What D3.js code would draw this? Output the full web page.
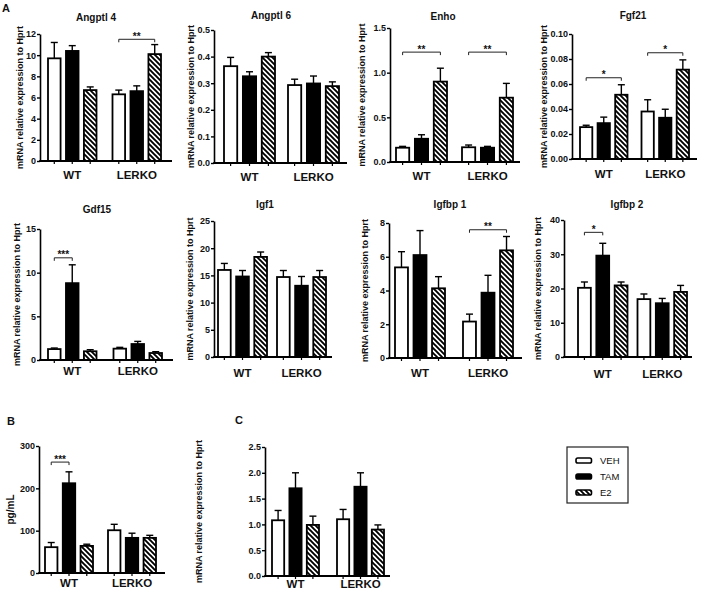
<!DOCTYPE html>
<html><head><meta charset="utf-8">
<script src="https://cdn.jsdelivr.net/npm/d3@7"></script>
<style>
body{margin:0;background:#fff}
svg{display:block}
text{font-family:"Liberation Sans",Arial,Helvetica,sans-serif;fill:#111}
</style>
</head><body>
<svg id="chart" width="709" height="592"></svg>
<script>
// ---------- DATA ----------
const groups = ["WT", "LERKO"];
const treatments = ["VEH", "TAM", "E2"];
const yLabelMRNA = "mRNA relative expression to Hprt";
const yLabelPlasma = "pg/mL";

// means: [WT: VEH, TAM, E2], [LERKO: VEH, TAM, E2]; sem likewise
const angptl4Mean = [[9.7, 10.4, 6.7], [6.3, 6.6, 10.1]];
const angptl4Sem  = [[1.5, 0.5, 0.3], [0.4, 0.5, 0.9]];
const angptl4Ticks = [0, 2, 4, 6, 8, 10, 12];
const angptl4Sig = [{group: "LERKO", from: "VEH", to: "E2", y: 11.5, label: "**"}];

const angptl6Mean = [[0.364, 0.326, 0.400], [0.293, 0.299, 0.289]];
const angptl6Sem  = [[0.033, 0.017, 0.015], [0.022, 0.028, 0.016]];
const angptl6Ticks = [0, 0.1, 0.2, 0.3, 0.4, 0.5];
const angptl6Sig = [];

const enhoMean = [[0.16, 0.26, 0.90], [0.165, 0.16, 0.72]];
const enhoSem  = [[0.015, 0.045, 0.15], [0.025, 0.015, 0.16]];
const enhoTicks = [0, 0.5, 1.0, 1.5];
const enhoSig = [{group: "WT", from: "VEH", to: "E2", y: 1.23, label: "**"},
                 {group: "LERKO", from: "VEH", to: "E2", y: 1.23, label: "**"}];

const fgf21Mean = [[0.0255, 0.0287, 0.0514], [0.038, 0.033, 0.0715]];
const fgf21Sem  = [[0.0015, 0.0048, 0.008], [0.0094, 0.0068, 0.0078]];
const fgf21Ticks = [0, 0.02, 0.04, 0.06, 0.08, 0.10];
const fgf21Sig = [{group: "WT", from: "VEH", to: "E2", y: 0.065, label: "*"},
                  {group: "LERKO", from: "VEH", to: "E2", y: 0.085, label: "*"}];

const gdf15Mean = [[1.25, 8.8, 1.0], [1.3, 1.83, 0.8]];
const gdf15Sem  = [[0.12, 2.1, 0.18], [0.15, 0.3, 0.15]];
const gdf15Ticks = [0, 5, 10, 15];
const gdf15Sig = [{group: "WT", from: "VEH", to: "TAM", y: 11.7, label: "***"}];

const igf1Mean = [[16.0, 14.8, 18.4], [14.7, 13.1, 14.7]];
const igf1Sem  = [[1.2, 1.1, 0.9], [1.2, 1.7, 1.2]];
const igf1Ticks = [0, 5, 10, 15, 20, 25];
const igf1Sig = [];

const igfbp1Mean = [[5.37, 6.1, 4.13], [2.16, 3.87, 6.38]];
const igfbp1Sem  = [[0.93, 1.45, 0.69], [0.44, 1.03, 0.82]];
const igfbp1Ticks = [0, 2, 4, 6, 8];
const igfbp1Sig = [{group: "LERKO", from: "VEH", to: "E2", y: 7.6, label: "**"}];

const igfbp2Mean = [[20.2, 29.6, 20.9], [16.9, 15.7, 19.0]];
const igfbp2Sem  = [[1.7, 3.6, 1.0], [1.5, 1.4, 1.9]];
const igfbp2Ticks = [0, 10, 20, 30, 40];
const igfbp2Sig = [{group: "WT", from: "VEH", to: "TAM", y: 36.4, label: "*"}];

const plasmaMean = [[61, 212, 64], [101, 83, 83]];
const plasmaSem  = [[11, 27, 4], [14, 11, 6]];
const plasmaTicks = [0, 100, 200, 300];
const plasmaSig = [{group: "WT", from: "VEH", to: "TAM", y: 262, label: "***"}];

const panelCMean = [[1.08, 1.70, 0.99], [1.10, 1.73, 0.90]];
const panelCSem  = [[0.19, 0.30, 0.17], [0.19, 0.27, 0.09]];
const panelCTicks = [0, 0.5, 1.0, 1.5, 2.0, 2.5];
const panelCSig = [];

// ---------- LAYOUT ----------
const panels = [
  {title: "Angptl 4", mean: angptl4Mean, sem: angptl4Sem, ticks: angptl4Ticks, fmt: "d", sig: angptl4Sig, ylab: yLabelMRNA,
   L: {ax: 40, xEnd: 172, top: 34, base: 161, b0: 48, b1: 161, gap: 16, tx: 96, ty: 21, ylx: 20, xly: 179}},
  {title: "Angptl 6", mean: angptl6Mean, sem: angptl6Sem, ticks: angptl6Ticks, fmt: ".1f", sig: angptl6Sig, ylab: yLabelMRNA,
   L: {ax: 214, xEnd: 347, top: 30, base: 163, b0: 224, b1: 339, gap: 13, tx: 271, ty: 19, ylx: 191, xly: 181}},
  {title: "Enho", mean: enhoMean, sem: enhoSem, ticks: enhoTicks, fmt: ".1f", sig: enhoSig, ylab: yLabelMRNA,
   L: {ax: 390, xEnd: 520, top: 28, base: 162, b0: 396, b1: 513, gap: 15, tx: 443, ty: 19.5, ylx: 362, xly: 180}},
  {title: "Fgf21", mean: fgf21Mean, sem: fgf21Sem, ticks: fgf21Ticks, fmt: ".2f", sig: fgf21Sig, ylab: yLabelMRNA,
   L: {ax: 572, xEnd: 697, top: 34, base: 159, b0: 580, b1: 689, gap: 14, tx: 633, ty: 19, ylx: 544, xly: 178}},
  {title: "Gdf15", mean: gdf15Mean, sem: gdf15Sem, ticks: gdf15Ticks, fmt: "d", sig: gdf15Sig, ylab: yLabelMRNA,
   L: {ax: 40, xEnd: 173, top: 229, base: 360, b0: 48, b1: 162, gap: 17, tx: 97, ty: 213, ylx: 17, xly: 375}},
  {title: "Igf1", mean: igf1Mean, sem: igf1Sem, ticks: igf1Ticks, fmt: "d", sig: igf1Sig, ylab: yLabelMRNA,
   L: {ax: 214, xEnd: 332, top: 221, base: 357, b0: 218, b1: 326, gap: 10, tx: 265, ty: 208, ylx: 190, xly: 377}},
  {title: "Igfbp 1", mean: igfbp1Mean, sem: igfbp1Sem, ticks: igfbp1Ticks, fmt: "d", sig: igfbp1Sig, ylab: yLabelMRNA,
   L: {ax: 389, xEnd: 522, top: 223, base: 358, b0: 395, b1: 513, gap: 18, tx: 450, ty: 208, ylx: 365, xly: 377}},
  {title: "Igfbp 2", mean: igfbp2Mean, sem: igfbp2Sem, ticks: igfbp2Ticks, fmt: "d", sig: igfbp2Sig, ylab: yLabelMRNA,
   L: {ax: 564, xEnd: 692, top: 220, base: 357, b0: 578, b1: 687, gap: 10, tx: 627, ty: 208, ylx: 538, xly: 378}},
  {title: "", mean: plasmaMean, sem: plasmaSem, ticks: plasmaTicks, fmt: "d", sig: plasmaSig, ylab: yLabelPlasma,
   L: {ax: 39, xEnd: 165, top: 446, base: 573, b0: 45, b1: 156, gap: 15, tx: 0, ty: 0, ylx: 10, xly: 587}},
  {title: "", mean: panelCMean, sem: panelCSem, ticks: panelCTicks, fmt: ".1f", sig: panelCSig, ylab: yLabelMRNA,
   L: {ax: 265, xEnd: 390, top: 447, base: 576, b0: 272, b1: 384, gap: 18, tx: 0, ty: 0, ylx: 199, xly: 588}}
];

const panelLetters = [{t: "A", x: 2, y: 12}, {t: "B", x: 7, y: 425}, {t: "C", x: 235, y: 424}];

// ---------- DRAW ----------
const svg = d3.select("#chart");
const defs = svg.append("defs");
const hs = 5;
const pat = defs.append("pattern").attr("id", "hatch").attr("patternUnits", "userSpaceOnUse")
  .attr("width", hs).attr("height", hs);
pat.append("rect").attr("width", hs).attr("height", hs).attr("fill", "#fff");
pat.append("path").attr("d", `M-1,${hs - 1} l2,2 M-0.5,-0.5 L${hs + 0.5},${hs + 0.5} M${hs - 1},-1 l2,2`)
  .attr("stroke", "#000").attr("stroke-width", 1.9);

const fillFor = t => t === "VEH" ? "#fff" : (t === "TAM" ? "#000" : "url(#hatch)");

panels.forEach(p => {
  const L = p.L;
  const g = svg.append("g");
  const y = d3.scaleLinear().domain([0, d3.max(p.ticks)]).range([L.base, L.top]);
  const step = (L.b1 - L.b0 + L.gap) / 2;
  const x0 = d3.scaleBand().domain(groups).range([L.b0, L.b1]).paddingInner(L.gap / step).paddingOuter(0);
  const x1 = d3.scaleBand().domain(treatments).range([0, x0.bandwidth()]).paddingInner(0.3);
  const cx = (gr, t) => x0(gr) + x1(t) + x1.bandwidth() / 2;

  const rows = [];
  groups.forEach((gr, gi) => treatments.forEach((t, ti) =>
    rows.push({gr, t, v: p.mean[gi][ti], e: p.sem[gi][ti]})));

  // error bars (upper only)
  const eb = g.append("g").attr("stroke", "#000").attr("stroke-width", 1.4);
  rows.forEach(r => {
    const x = cx(r.gr, r.t);
    eb.append("line").attr("x1", x).attr("x2", x).attr("y1", y(r.v)).attr("y2", y(r.v + r.e));
    eb.append("line").attr("x1", x - 3.5).attr("x2", x + 3.5).attr("y1", y(r.v + r.e)).attr("y2", y(r.v + r.e));
  });

  // bars
  g.append("g").selectAll("rect").data(rows).join("rect")
    .attr("x", r => x0(r.gr) + x1(r.t))
    .attr("y", r => y(r.v))
    .attr("width", x1.bandwidth())
    .attr("height", r => L.base - y(r.v))
    .attr("fill", r => fillFor(r.t))
    .attr("stroke", "#000").attr("stroke-width", 1.8);

  // y axis
  const ya = g.append("g").attr("transform", `translate(${L.ax},0)`)
    .call(d3.axisLeft(y).tickValues(p.ticks).tickSize(3).tickSizeOuter(0).tickPadding(1)
      .tickFormat(d3.format(p.fmt)));
  ya.select(".domain").attr("stroke-width", 1.6);
  ya.selectAll(".tick line").attr("stroke-width", 1.4);
  ya.selectAll(".tick text").attr("font-size", 9).attr("font-weight", "bold")
    .attr("font-family", "'Liberation Sans', Arial, sans-serif").attr("fill", "#111");

  // x axis baseline and ticks under bars
  g.append("line").attr("x1", L.ax - 0.8).attr("x2", L.xEnd).attr("y1", L.base).attr("y2", L.base)
    .attr("stroke", "#000").attr("stroke-width", 1.8);
  g.append("g").selectAll("line").data(rows).join("line")
    .attr("x1", r => cx(r.gr, r.t)).attr("x2", r => cx(r.gr, r.t))
    .attr("y1", L.base).attr("y2", L.base + 3).attr("stroke", "#000").attr("stroke-width", 1.2);

  // group labels
  g.append("g").selectAll("text").data(groups).join("text")
    .attr("x", d => x0(d) + x0.bandwidth() / 2).attr("y", L.xly)
    .attr("text-anchor", "middle").attr("font-size", 11.5).attr("font-weight", "bold").text(d => d);

  // title
  if (p.title) g.append("text").attr("x", L.tx).attr("y", L.ty).attr("text-anchor", "middle")
    .attr("font-size", 10).attr("font-weight", "bold").text(p.title);

  // y label
  g.append("text").attr("transform", `translate(${L.ylx},${(L.top + L.base) / 2}) rotate(-90)`)
    .attr("dy", "0.35em").attr("text-anchor", "middle")
    .attr("font-size", p.ylab === yLabelMRNA ? 9 : 10).attr("font-weight", "bold").text(p.ylab);

  // significance brackets
  p.sig.forEach(s => {
    const xa = cx(s.group, s.from), xb = cx(s.group, s.to), yy = y(s.y);
    g.append("path").attr("d", `M${xa},${yy + 3}V${yy}H${xb}V${yy + 3}`)
      .attr("fill", "none").attr("stroke", "#222").attr("stroke-width", 1);
    g.append("text").attr("x", (xa + xb) / 2).attr("y", yy + 0.5).attr("text-anchor", "middle")
      .attr("font-size", 10).attr("font-weight", "bold").attr("fill", "#111").text(s.label);
  });
});

// panel letters
svg.append("g").selectAll("text").data(panelLetters).join("text")
  .attr("x", d => d.x).attr("y", d => d.y).attr("font-size", 11).attr("font-weight", "bold").text(d => d.t);

// legend
const lg = svg.append("g");
lg.append("rect").attr("x", 567).attr("y", 447).attr("width", 61).attr("height", 56)
  .attr("fill", "#fff").attr("stroke", "#222").attr("stroke-width", 1.2);
treatments.forEach((t, i) => {
  const yy = 460.5 + i * 16;
  lg.append("rect").attr("x", 576).attr("y", yy - 2.5).attr("width", 15.5).attr("height", 5).attr("rx", 1.8)
    .attr("fill", fillFor(t)).attr("stroke", "#000").attr("stroke-width", 1.6);
  lg.append("text").attr("x", 600).attr("y", yy).attr("dy", "0.35em").attr("font-size", 9.5).text(t);
});
</script>
</body></html>
